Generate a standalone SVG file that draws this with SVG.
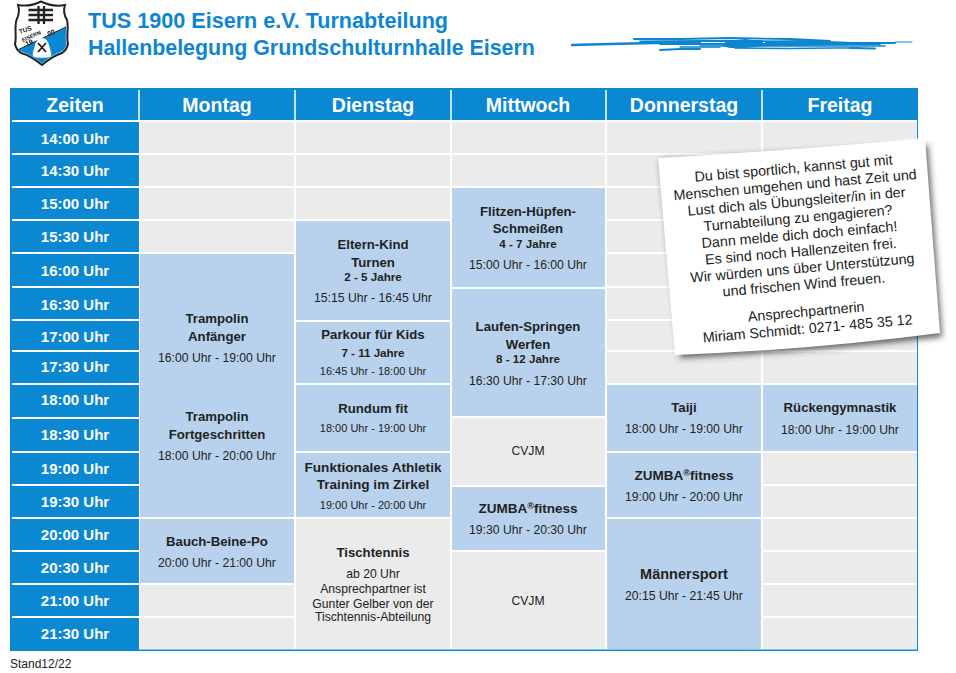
<svg xmlns="http://www.w3.org/2000/svg" width="956" height="673" viewBox="0 0 956 673">
<style>
text{font-family:"Liberation Sans",Arial,sans-serif;text-anchor:middle;fill:#222}
.h{font-size:19.500px;font-weight:700;fill:#fff}
.z{font-size:15px;font-weight:700;fill:#fff}
.t{font-size:13.200px;font-weight:700}
.s{font-size:12.200px}
.m{font-size:11px}
.a{font-size:11.600px;font-weight:700}
.n{font-size:14.300px}
.g{fill:#ebebeb}
.b{fill:#b8d2ee}
.blue{fill:#0a88d2}
.title{font-size:21.600px;font-weight:700;fill:#0d86cf;text-anchor:start}
.lt{font-weight:700;fill:#222}
.st{fill:none;stroke:#0d86cf;stroke-linecap:round}
</style>
<defs>
<filter id="sh" x="-10%" y="-10%" width="120%" height="120%"><feGaussianBlur stdDeviation="3"/></filter>
</defs>
<rect width="956" height="673" fill="#fff"/>
<g id="logo">
<path d="M41 1.500C34 5 26 6.500 18 5C20 11 19 15 16.500 20C14 28 17 36 15 44C16 49 18 51 21 53C29 55 36 60 42 65C48 60 55 55 62 53C65 51 67 49 68 44C66 36 69 28 67 20C64 15 63 11 65 5C57 6.500 48 5 41 1.500Z" fill="#fff" stroke="#222" stroke-width="2"/>
<path d="M17.500 50L66 27C66.500 33 65 38 66.500 44C65.500 48 64 50 61.500 51.500C54 54 48 58.500 42 63.500C36 58.500 29 54 21.500 51.500Z" fill="#0a88d2"/>
<path d="M17.500 50L66 27" stroke="#222" stroke-width="1"/>
<path d="M38.500 6V24M44 6V24M28.500 10H53M28.500 15H53M28.500 20H53" stroke="#222" stroke-width="2.300" fill="none"/>
<path d="M34 57C31 55 34 50 35 45C36 41 38.500 38 42 38C45.500 38 48 41 49 45C50 50 53 55 50 57C47 58 37 58 34 57Z" fill="#fff"/>
<path d="M38 43L46 52M46 43L38 52" stroke="#222" stroke-width="1.800"/>
<text class="lt" transform="translate(26,32) rotate(-18)" style="font-size:6.500px">TUS</text>
<text class="lt" transform="translate(32,38) rotate(-24)" style="font-size:5.500px">EISERN</text>
<text class="lt" transform="translate(30,45) rotate(-24)" style="font-size:7px">19</text>
<text class="lt" transform="translate(52,35) rotate(-24)" style="font-size:7px">00</text>
</g>
<g id="heading">
<text class="title" x="88" y="28">TUS 1900 Eisern e.V. Turnabteilung</text>
<text class="title" style="font-size:21.400px" x="88" y="55">Hallenbelegung Grundschulturnhalle Eisern</text>
</g>
<g id="scribble">
<path class="st" stroke-width="2.400" d="M572 45L610 44L655 43L700 43"/>
<path class="st" stroke-width="1.800" d="M634 39L680 39L730 38L790 39L830 41"/>
<path class="st" stroke-width="1.800" d="M640 41.500L700 41L760 41L850 43L895 43"/>
<path class="st" stroke-width="1.800" d="M660 44L720 44L800 44L880 44"/>
<path class="st" stroke-width="1.600" d="M700 46L760 46L830 46L885 46"/>
<path class="st" stroke-width="2" d="M660 50L680 49L700 49"/>
<path class="st" stroke-width="1.400" d="M680 47L720 47"/>
<path class="st" stroke-width="1.500" d="M735 48L790 48.500L830 48L860 48"/>
<path class="st" stroke-width="1" d="M895 42L912 42"/>
<path class="st" stroke-width="2" d="M850 48L875 48.500"/>
<path fill="#0d86cf" d="M726 41L745 39L762 41L765 46L745 48L730 48L722 46Z"/>
<path fill="#0d86cf" d="M765 41L800 40L850 42L890 43L850 45L790 46L765 46Z"/>
</g>
<g id="table">
<rect class="blue" x="10" y="88" width="908" height="563"/>
<rect x="139" y="120" width="778" height="529.500" fill="#fff"/>
<rect x="12" y="120" width="127" height="2" fill="#fff"/>
<path d="M139 90V120M295 90V120M451 90V120M606 90V120M762 90V120" stroke="#fff" stroke-width="1.500"/>
<g fill="#fff">
<rect x="12" y="153" width="127" height="2"/><rect x="12" y="186" width="127" height="2"/><rect x="12" y="219" width="127" height="2"/><rect x="12" y="252" width="127" height="2"/><rect x="12" y="286" width="127" height="2"/><rect x="12" y="319" width="127" height="2"/><rect x="12" y="350" width="127" height="2"/><rect x="12" y="383" width="127" height="2"/><rect x="12" y="417" width="127" height="2"/><rect x="12" y="451" width="127" height="2"/><rect x="12" y="484" width="127" height="2"/><rect x="12" y="517" width="127" height="2"/><rect x="12" y="550" width="127" height="2"/><rect x="12" y="583" width="127" height="2"/><rect x="12" y="616" width="127" height="2"/>
</g>
<g class="g">
<rect x="140" y="122" width="154" height="31"/><rect x="296" y="122" width="154" height="31"/><rect x="452" y="122" width="153" height="31"/><rect x="607" y="122" width="154" height="31"/><rect x="763" y="122" width="154" height="31"/>
<rect x="140" y="155" width="154" height="31"/><rect x="296" y="155" width="154" height="31"/><rect x="452" y="155" width="153" height="31"/><rect x="607" y="155" width="154" height="31"/><rect x="763" y="155" width="154" height="31"/>
<rect x="140" y="188" width="154" height="31"/><rect x="296" y="188" width="154" height="31"/><rect x="607" y="188" width="154" height="31"/><rect x="763" y="188" width="154" height="31"/>
<rect x="140" y="221" width="154" height="31"/><rect x="607" y="221" width="154" height="31"/><rect x="763" y="221" width="154" height="31"/>
<rect x="607" y="254" width="154" height="32"/><rect x="763" y="254" width="154" height="32"/>
<rect x="607" y="288" width="154" height="31"/><rect x="763" y="288" width="154" height="31"/>
<rect x="607" y="321" width="154" height="29"/><rect x="763" y="321" width="154" height="29"/>
<rect x="607" y="352" width="154" height="31"/><rect x="763" y="352" width="154" height="31"/>
<rect x="763" y="453" width="154" height="31"/><rect x="763" y="486" width="154" height="31"/><rect x="763" y="519" width="154" height="31"/><rect x="763" y="552" width="154" height="31"/><rect x="763" y="585" width="154" height="31"/><rect x="763" y="618" width="154" height="31"/>
<rect x="140" y="585" width="154" height="31"/><rect x="140" y="618" width="154" height="31"/>
</g>
</g>
<g id="headers">
<text class="h" x="75" y="112">Zeiten</text><text class="h" x="217" y="112">Montag</text><text class="h" x="373" y="112">Dienstag</text><text class="h" x="528" y="112">Mittwoch</text><text class="h" x="684" y="112">Donnerstag</text><text class="h" x="840" y="112">Freitag</text>
</g>
<g id="times">
<text class="z" x="75" y="144">14:00 Uhr</text><text class="z" x="75" y="176">14:30 Uhr</text><text class="z" x="75" y="209">15:00 Uhr</text><text class="z" x="75" y="242">15:30 Uhr</text><text class="z" x="75" y="276">16:00 Uhr</text><text class="z" x="75" y="310">16:30 Uhr</text><text class="z" x="75" y="342">17:00 Uhr</text><text class="z" x="75" y="372">17:30 Uhr</text><text class="z" x="75" y="405">18:00 Uhr</text><text class="z" x="75" y="440">18:30 Uhr</text><text class="z" x="75" y="474">19:00 Uhr</text><text class="z" x="75" y="507">19:30 Uhr</text><text class="z" x="75" y="540">20:00 Uhr</text><text class="z" x="75" y="573">20:30 Uhr</text><text class="z" x="75" y="606">21:00 Uhr</text><text class="z" x="75" y="639">21:30 Uhr</text>
</g>
<g id="trampolin"><rect class="b" x="140" y="254" width="154" height="263"/>
<text class="t" x="217" y="323">Trampolin</text><text class="t" x="217" y="341">Anfänger</text><text class="s" x="217" y="362">16:00 Uhr - 19:00 Uhr</text>
<text class="t" x="217" y="421">Trampolin</text><text class="t" x="217" y="439">Fortgeschritten</text><text class="s" x="217" y="460">18:00 Uhr - 20:00 Uhr</text></g>
<g id="bauch"><rect class="b" x="140" y="519" width="154" height="64"/><text class="t" x="217" y="546">Bauch-Beine-Po</text><text class="s" x="217" y="567">20:00 Uhr - 21:00 Uhr</text></g>
<g id="eltern"><rect class="b" x="296" y="221" width="154" height="99"/><text class="t" x="373" y="249">Eltern-Kind</text><text class="t" x="373" y="267">Turnen</text><text class="a" x="373" y="281">2 - 5  Jahre</text><text class="s" x="373" y="302">15:15 Uhr - 16:45 Uhr</text></g>
<g id="parkour"><rect class="b" x="296" y="322" width="154" height="61"/><text class="t" x="373" y="339">Parkour für Kids</text><text class="a" x="373" y="357">7 - 11 Jahre</text><text class="m" x="373" y="375">16:45 Uhr - 18:00 Uhr</text></g>
<g id="rundum"><rect class="b" x="296" y="385" width="154" height="66"/><text class="t" x="373" y="413">Rundum fit</text><text class="m" x="373" y="432">18:00 Uhr - 19:00 Uhr</text></g>
<g id="funktionales"><rect class="b" x="296" y="453" width="154" height="64"/><text class="t" style="font-size:13.600px" x="373" y="472">Funktionales Athletik</text><text class="t" style="font-size:13.600px" x="373" y="489">Training im Zirkel</text><text class="m" x="373" y="509">19:00 Uhr - 20:00 Uhr</text></g>
<g id="tischtennis"><rect class="g" x="296" y="519" width="154" height="130"/><text class="t" x="373" y="557">Tischtennis</text><text class="s" x="373" y="578">ab 20 Uhr</text><text class="s" x="373" y="593">Ansprechpartner ist</text><text class="s" x="373" y="608">Gunter Gelber von der</text><text class="s" x="373" y="621">Tischtennis-Abteilung</text></g>
<g id="flitzen"><rect class="b" x="452" y="188" width="153" height="99"/><text class="t" x="528" y="216">Flitzen-Hüpfen-</text><text class="t" x="528" y="233">Schmeißen</text><text class="a" x="528" y="248">4 - 7 Jahre</text><text class="s" x="528" y="269">15:00 Uhr - 16:00 Uhr</text></g>
<g id="laufen"><rect class="b" x="452" y="289" width="153" height="127"/><text class="t" x="528" y="331">Laufen-Springen</text><text class="t" x="528" y="349">Werfen</text><text class="a" x="528" y="363">8 - 12 Jahre</text><text class="s" x="528" y="385">16:30 Uhr - 17:30 Uhr</text></g>
<g id="cvjm1"><rect class="g" x="452" y="418" width="153" height="67"/><text class="s" x="528" y="455">CVJM</text></g>
<g id="zumba1"><rect class="b" x="452" y="487" width="153" height="63"/><text class="t" style="font-size:13.500px" x="528" y="513">ZUMBA<tspan style="font-size:9px" dy="-4">®</tspan><tspan dy="4">fitness</tspan></text><text class="s" x="528" y="534">19:30 Uhr - 20:30 Uhr</text></g>
<g id="cvjm2"><rect class="g" x="452" y="552" width="153" height="97"/><text class="s" x="528" y="605">CVJM</text></g>
<g id="taiji"><rect class="b" x="607" y="385" width="154" height="66"/><text class="t" x="684" y="412">Taiji</text><text class="s" x="684" y="433">18:00 Uhr - 19:00 Uhr</text></g>
<g id="zumba2"><rect class="b" x="607" y="453" width="154" height="64"/><text class="t" style="font-size:13.500px" x="684" y="480">ZUMBA<tspan style="font-size:9px" dy="-4">®</tspan><tspan dy="4">fitness</tspan></text><text class="s" x="684" y="501">19:00 Uhr - 20:00 Uhr</text></g>
<g id="maennersport"><rect class="b" x="607" y="519" width="154" height="130"/><text class="t" style="font-size:14.500px" x="684" y="579">Männersport</text><text class="s" x="684" y="600">20:15 Uhr - 21:45 Uhr</text></g>
<g id="ruecken"><rect class="b" x="763" y="385" width="154" height="66"/><text class="t" x="840" y="412">Rückengymnastik</text><text class="s" x="840" y="434">18:00 Uhr - 19:00 Uhr</text></g>
<g id="note">
<path d="M680 358Q810 352 942 337L928 145L660 160Z" fill="#333" opacity=".75" filter="url(#sh)"/>
<path d="M658 158Q800 150 925 138L940 333Q810 350 675 355Z" fill="#fff"/>
<g transform="translate(794,173) rotate(-5)">
<text class="n" x="0" y="0">Du bist sportlich, kannst gut mit</text>
<text class="n" x="0" y="16.700">Menschen umgehen und hast Zeit und</text>
<text class="n" x="0" y="33.400">Lust dich als Übungsleiter/in in der</text>
<text class="n" x="0" y="50.100">Turnabteilung zu engagieren?</text>
<text class="n" x="0" y="66.800">Dann melde dich doch einfach!</text>
<text class="n" x="0" y="83.500">Es sind noch Hallenzeiten frei.</text>
<text class="n" x="0" y="100.200">Wir würden uns über Unterstützung</text>
<text class="n" x="0" y="116.900">und frischen Wind freuen.</text>
<text class="n" x="0" y="144">Ansprechpartnerin</text>
<text class="n" x="0" y="161">Miriam Schmidt: 0271- 485 35 12</text>
</g>
</g>
<text id="stand" x="10" y="668" style="font-size:12px;text-anchor:start">Stand12/22</text>
</svg>
